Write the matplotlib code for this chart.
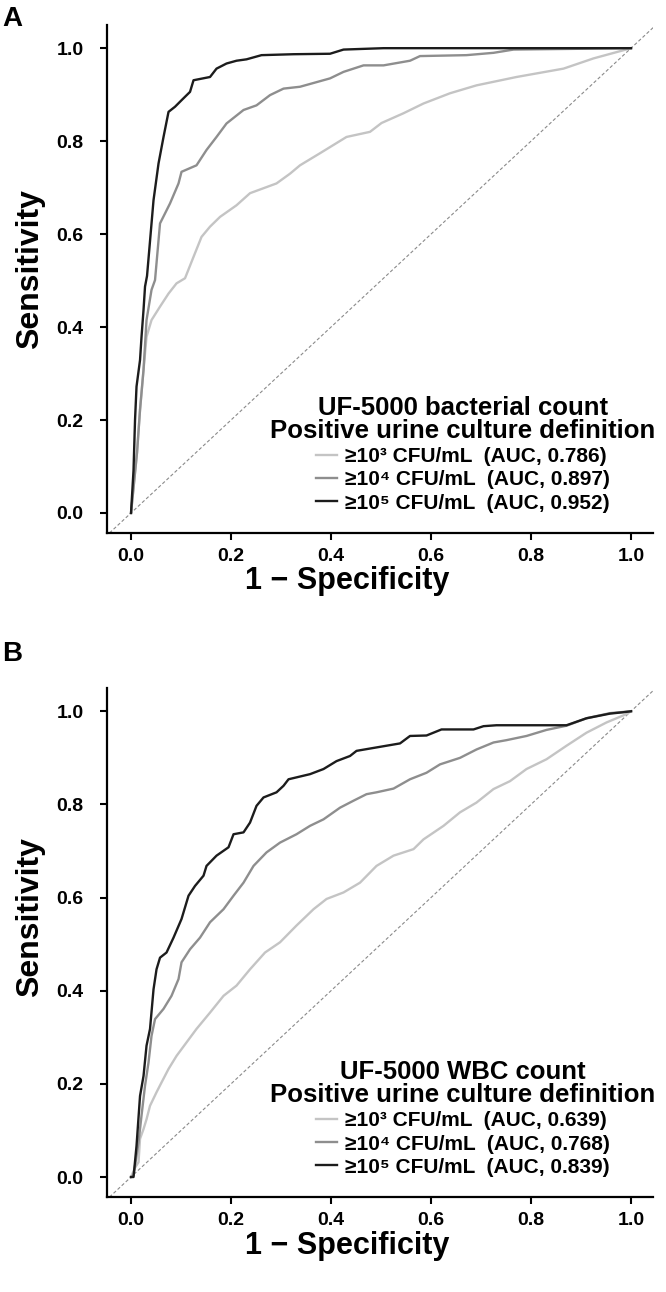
"""
ROC curves of UF-5000 bacterial and WBC counts
for three positive urine culture definitions
"""

import matplotlib
matplotlib.use('Agg')
import matplotlib.pyplot as plt

plt.rcParams['font.family'] = ['Liberation Sans', 'DejaVu Sans']
plt.rcParams['font.weight'] = 'bold'

# --- data ---------------------------------------------------------------
thresholds = ['³', '⁴', '⁵']

# Panel A: bacterial count
a_fpr_1e3 = [0.0, 0.012, 0.018, 0.025, 0.031, 0.041, 0.058, 0.075, 0.091, 0.108, 0.125,
             0.141, 0.158, 0.178, 0.211, 0.238, 0.291, 0.318, 0.338, 0.378, 0.431, 0.478,
             0.501, 0.545, 0.585, 0.638, 0.691, 0.771, 0.865, 0.925, 1.0]
a_tpr_1e3 = [0.0, 0.13, 0.222, 0.308, 0.379, 0.415, 0.444, 0.472, 0.494, 0.505, 0.551,
             0.594, 0.616, 0.637, 0.662, 0.688, 0.709, 0.730, 0.748, 0.774, 0.809, 0.820,
             0.839, 0.860, 0.881, 0.903, 0.920, 0.938, 0.956, 0.978, 1.0]
a_fpr_1e4 = [0.0, 0.012, 0.018, 0.025, 0.031, 0.041, 0.048, 0.058, 0.078, 0.095, 0.101,
             0.131, 0.151, 0.171, 0.191, 0.225, 0.251, 0.278, 0.305, 0.338, 0.398, 0.425,
             0.465, 0.505, 0.558, 0.578, 0.671, 0.725, 0.765, 1.0]
a_tpr_1e4 = [0.0, 0.13, 0.222, 0.308, 0.415, 0.480, 0.501, 0.623, 0.666, 0.709, 0.734,
             0.748, 0.781, 0.809, 0.838, 0.867, 0.877, 0.899, 0.913, 0.917, 0.935, 0.949,
             0.963, 0.963, 0.973, 0.983, 0.985, 0.990, 0.997, 1.0]
a_fpr_1e5 = [0.0, 0.005, 0.008, 0.011, 0.018, 0.021, 0.025, 0.028, 0.032, 0.045, 0.055,
             0.065, 0.075, 0.088, 0.101, 0.118, 0.125, 0.158, 0.171, 0.191, 0.211, 0.231,
             0.261, 0.325, 0.398, 0.425, 0.505, 1.0]
a_tpr_1e5 = [0.0, 0.092, 0.200, 0.272, 0.329, 0.379, 0.437, 0.487, 0.510, 0.673, 0.752,
             0.809, 0.863, 0.874, 0.888, 0.906, 0.931, 0.938, 0.956, 0.967, 0.973, 0.976,
             0.985, 0.987, 0.988, 0.997, 1.0, 1.0]

# Panel B: WBC count
b_fpr_1e3 = [0.0, 0.008, 0.015, 0.018, 0.025, 0.031, 0.038, 0.051, 0.061, 0.075, 0.091,
             0.111, 0.131, 0.158, 0.185, 0.211, 0.238, 0.268, 0.298, 0.331, 0.365, 0.391,
             0.425, 0.458, 0.491, 0.525, 0.565, 0.585, 0.625, 0.658, 0.691, 0.725, 0.758,
             0.791, 0.831, 0.871, 0.911, 0.951, 0.991, 1.0]
b_tpr_1e3 = [0.0, 0.02, 0.032, 0.082, 0.103, 0.124, 0.153, 0.182, 0.203, 0.232, 0.260,
             0.289, 0.318, 0.353, 0.389, 0.411, 0.446, 0.482, 0.504, 0.540, 0.575, 0.597,
             0.611, 0.632, 0.668, 0.690, 0.704, 0.725, 0.754, 0.783, 0.804, 0.833, 0.850,
             0.876, 0.897, 0.926, 0.954, 0.976, 0.994, 1.0]
b_fpr_1e4 = [0.0, 0.005, 0.015, 0.021, 0.028, 0.035, 0.041, 0.048, 0.065, 0.081, 0.095,
             0.101, 0.118, 0.138, 0.158, 0.185, 0.205, 0.225, 0.245, 0.271, 0.298, 0.331,
             0.358, 0.385, 0.418, 0.445, 0.471, 0.491, 0.525, 0.558, 0.591, 0.618, 0.658,
             0.691, 0.725, 0.751, 0.791, 0.831, 0.871, 0.911, 0.958, 1.0]
b_tpr_1e4 = [0.0, 0.003, 0.074, 0.132, 0.196, 0.246, 0.303, 0.339, 0.361, 0.389, 0.425,
             0.461, 0.489, 0.514, 0.547, 0.575, 0.604, 0.632, 0.668, 0.697, 0.718, 0.736,
             0.754, 0.768, 0.793, 0.808, 0.822, 0.826, 0.834, 0.854, 0.868, 0.886, 0.900,
             0.918, 0.933, 0.938, 0.947, 0.960, 0.969, 0.985, 0.996, 1.0]
b_fpr_1e5 = [0.0, 0.005, 0.011, 0.018, 0.025, 0.031, 0.038, 0.045, 0.051, 0.058, 0.071,
             0.085, 0.101, 0.115, 0.128, 0.145, 0.151, 0.171, 0.195, 0.205, 0.225, 0.238,
             0.251, 0.265, 0.291, 0.305, 0.315, 0.358, 0.385, 0.411, 0.438, 0.451, 0.478,
             0.538, 0.558, 0.591, 0.621, 0.685, 0.705, 0.731, 0.871, 0.911, 0.958, 0.985, 1.0]
b_tpr_1e5 = [0.0, 0.0, 0.067, 0.174, 0.217, 0.282, 0.318, 0.403, 0.446, 0.471, 0.482,
             0.514, 0.554, 0.604, 0.625, 0.647, 0.668, 0.690, 0.708, 0.736, 0.740, 0.761,
             0.797, 0.815, 0.826, 0.840, 0.854, 0.865, 0.876, 0.893, 0.904, 0.915, 0.920,
             0.931, 0.947, 0.948, 0.961, 0.961, 0.968, 0.970, 0.970, 0.985, 0.995, 0.998, 1.0]

auc_a = ['0.786', '0.897', '0.952']
auc_b = ['0.639', '0.768', '0.839']

titles = ['UF-5000 bacterial count', 'UF-5000 WBC count']
panel_letters = ['A', 'B']

colors = ['#c4c4c4', '#8e8e8e', '#1c1c1c']


def draw_panel(ax, curves, aucs, title, ylabel_y):
    ax.plot([-0.1, 1.1], [-0.1, 1.1], color='#8a8a8a', linestyle=(0, (3, 2)),
            linewidth=0.8, zorder=1)
    for (fpr, tpr), thr, auc, col in zip(curves, thresholds, aucs, colors):
        label = '≥10' + thr + ' CFU/mL  (AUC, ' + auc + ')'
        ax.plot(fpr, tpr, color=col, linewidth=1.7, label=label, zorder=2)

    ax.set_xlim(-0.048, 1.044)
    ax.set_ylim(-0.043, 1.05)
    ticks = [0.0, 0.2, 0.4, 0.6, 0.8, 1.0]
    ax.set_xticks(ticks)
    ax.set_yticks(ticks)
    ax.set_xticklabels([f'{t:.1f}' for t in ticks])
    ax.set_yticklabels([f'{t:.1f}' for t in ticks])
    ax.tick_params(direction='out', length=5, width=1.5, labelsize=14)
    ax.tick_params(axis='x', pad=6)
    ax.tick_params(axis='y', pad=12)
    for side in ['top', 'right']:
        ax.spines[side].set_visible(False)
    for side in ['left', 'bottom']:
        ax.spines[side].set_linewidth(1.6)

    ax.set_xlabel('1 − Specificity', fontsize=22, fontweight='bold')
    ax.set_ylabel('Sensitivity', fontsize=23, fontweight='bold')
    ax.xaxis.set_label_coords(0.44, -0.066)
    ax.yaxis.set_label_coords(-0.113, ylabel_y)

    leg = ax.legend(loc='lower right', bbox_to_anchor=(1.005, 0.04),
                    title=title + '\nPositive urine culture definition',
                    title_fontproperties={'size': 18.5, 'weight': 'bold'},
                    prop={'size': 15, 'weight': 'bold'},
                    frameon=False, handlelength=1.0, handletextpad=0.4,
                    labelspacing=0.2, borderpad=0, borderaxespad=0,
                    alignment='center')
    leg.get_title().set_multialignment('center')
    leg.get_title().set_linespacing(0.95)


fig = plt.figure(figsize=(6.66, 12.92), dpi=100)
ax_a = fig.add_axes([0.1607, 0.5875, 0.8198, 0.3932])
ax_b = fig.add_axes([0.1607, 0.0735, 0.8198, 0.3940])

draw_panel(ax_a, [(a_fpr_1e3, a_tpr_1e3), (a_fpr_1e4, a_tpr_1e4), (a_fpr_1e5, a_tpr_1e5)],
           auc_a, titles[0], 0.52)
draw_panel(ax_b, [(b_fpr_1e3, b_tpr_1e3), (b_fpr_1e4, b_tpr_1e4), (b_fpr_1e5, b_tpr_1e5)],
           auc_b, titles[1], 0.55)

fig.text(0.003, 0.985, panel_letters[0], fontsize=20, fontweight='bold', va='center')
fig.text(0.003, 0.4935, panel_letters[1], fontsize=20, fontweight='bold', va='center')

fig.savefig('out.png', dpi=100)
